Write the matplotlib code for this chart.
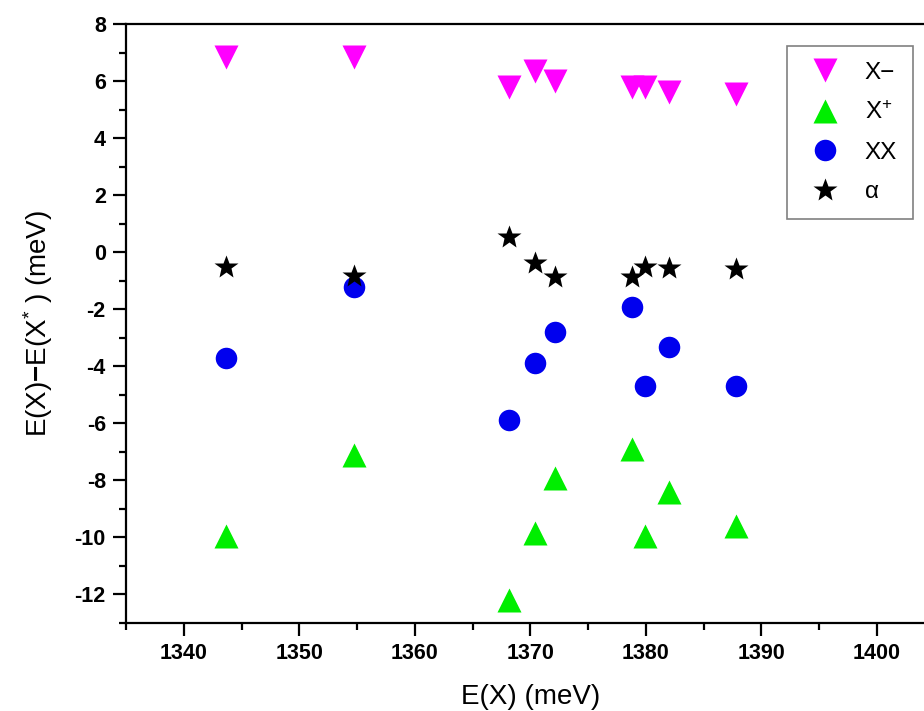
import matplotlib
matplotlib.use("Agg")
import matplotlib.pyplot as plt
from matplotlib.ticker import MultipleLocator

plt.rcParams['font.family'] = ['Liberation Sans', 'DejaVu Sans']
plt.rcParams['mathtext.fontset'] = 'custom'
plt.rcParams['mathtext.rm'] = 'Liberation Sans'
plt.rcParams['mathtext.it'] = 'Liberation Sans:italic'
plt.rcParams['mathtext.bf'] = 'Liberation Sans:bold'
plt.rcParams['axes.unicode_minus'] = False

# Data
energy = [1343.7, 1354.7, 1368.2, 1370.4, 1372.1, 1378.8, 1379.9, 1382.0, 1387.8]
x_minus = [6.85, 6.85, 5.80, 6.34, 5.99, 5.80, 5.79, 5.63, 5.56]
x_plus = [-9.95, -7.10, -12.20, -9.85, -7.90, -6.90, -9.95, -8.40, -9.60]
xx = [-3.70, -1.21, -5.88, -3.90, -2.79, -1.91, -4.68, -3.31, -4.68]
alpha = [-0.53, -0.83, 0.54, -0.39, -0.86, -0.86, -0.53, -0.57, -0.60]

labels = ['X\u2212', 'X$^{+}$', 'XX', '\u03b1']

fig = plt.figure(figsize=(9.24, 7.11), dpi=100)
ax = fig.add_axes([126/924, 1-623/711, 808.5/924, 599/711])

ax.plot(energy, x_minus, linestyle='none', marker='v', ms=17.5, color='#ff00ff', mec='none', label=labels[0])
ax.plot(energy, x_plus, linestyle='none', marker='^', ms=17.5, color='#00ee00', mec='none', label=labels[1])
ax.plot(energy, xx, linestyle='none', marker='o', ms=15.5, color='#0000ee', mec='none', label=labels[2])
ax.plot(energy, alpha, linestyle='none', marker='*', ms=18, color='black', mec='none', label=labels[3])

ax.set_xlim(1335, 1405)
ax.set_ylim(-13, 8)
ax.xaxis.set_major_locator(MultipleLocator(10))
ax.xaxis.set_minor_locator(MultipleLocator(5))
ax.yaxis.set_major_locator(MultipleLocator(2))
ax.yaxis.set_minor_locator(MultipleLocator(1))

for s in ax.spines.values():
    s.set_linewidth(1.6)
ax.spines['right'].set_visible(False)

ax.tick_params(which='major', direction='out', length=9.5, width=1.6, pad=5, labelsize=15.5)
ax.tick_params(which='minor', direction='out', length=5, width=1.6)
ax.tick_params(top=False, right=False, which='both')
for lab in ax.get_xticklabels() + ax.get_yticklabels():
    lab.set_fontweight('bold')

ax.set_xlabel('E(X) (meV)', fontsize=20, labelpad=14)
ax.set_ylabel('E(X)$\\mathbf{-}$E(X$^{*}$ ) (meV)', fontsize=20, labelpad=14)

leg = ax.legend(loc='upper right', bbox_to_anchor=(913/924, 1-46/711),
                bbox_transform=fig.transFigure, borderaxespad=0,
                fontsize=17.5, numpoints=1, fancybox=False, framealpha=1,
                edgecolor='#808080', borderpad=0.65, labelspacing=0.72,
                handlelength=1.8, handletextpad=0.75)
leg.get_frame().set_linewidth(1.2)

fig.savefig('out.png', dpi=100)
